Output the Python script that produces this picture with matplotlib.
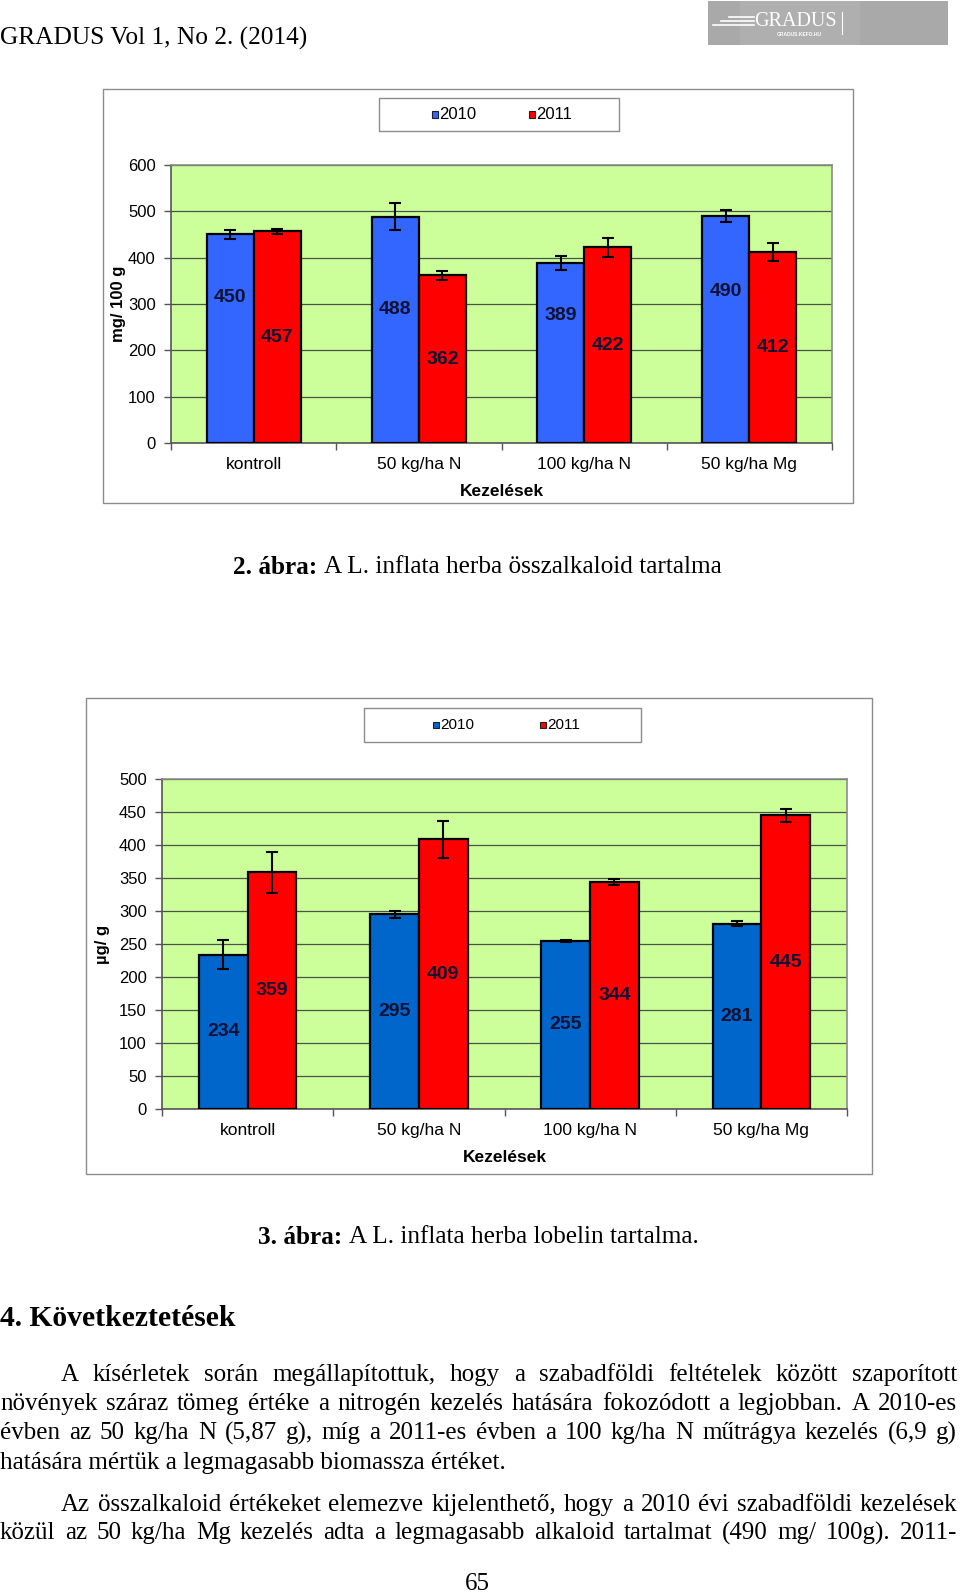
import matplotlib
matplotlib.use("Agg")
import matplotlib.pyplot as plt
from matplotlib.patches import Rectangle
from matplotlib.lines import Line2D
import numpy as np

# ---------------- data ----------------
categories = ['kontroll', '50 kg/ha N', '100 kg/ha N', '50 kg/ha Mg']
series_names = ['2010', '2011']

alk_2010 = [450, 488, 389, 490]
alk_2011 = [457, 362, 422, 412]
alk_err_2010 = [9, 29, 15, 12.5]
alk_err_2011 = [5, 10, 19.5, 20]

lob_2010 = [234, 295, 255, 281]
lob_2011 = [359, 409, 344, 445]
lob_err_2010 = [21.5, 5.5, 1.5, 3.5]
lob_err_2011 = [31, 28, 4.5, 9.5]

alk_yticks = [0, 100, 200, 300, 400, 500, 600]
lob_yticks = [0, 50, 100, 150, 200, 250, 300, 350, 400, 450, 500]

# label heights used in figure 2 for the 2010 series (manually placed in source)
alk_label_pos_2010 = [315, 289, 275, 327]

# ---------------- layout ----------------
W, H = 960, 1596
fig = plt.figure(figsize=(W / 100, H / 100), dpi=100)
fig.patch.set_facecolor('white')

SANS = 'Liberation Sans'
SERIF = 'Liberation Serif'


def fx(x):
    return x / W


def fy(y):
    return 1 - y / H


def add_axes_px(l, t, r, b):
    return fig.add_axes([fx(l), fy(b), (r - l) / W, (b - t) / H])


def frame_box(l, t, r, b, ec='#8c8c8c', lw=1.0):
    fig.patches.append(Rectangle((fx(l), fy(b)), (r - l) / W, (b - t) / H,
                                 transform=fig.transFigure, fill=False,
                                 edgecolor=ec, linewidth=lw, zorder=0))


def draw_chart(ax, v2010, v2011, e2010, e2011, yticks, ylabel, blue,
               label_pos_2010=None, tick_fs=12, cat_fs=12.5, ylabel_x=-0.08):
    x = np.arange(len(categories))
    w = 0.284
    ax.set_facecolor('#CCFF99')
    ax.bar(x - w / 2, v2010, w, color=blue, edgecolor='black', linewidth=1.6, zorder=3)
    ax.bar(x + w / 2, v2011, w, color='#FF0000', edgecolor='black', linewidth=1.6, zorder=3)
    ax.errorbar(x - w / 2, v2010, yerr=e2010, fmt='none', ecolor='black',
                elinewidth=1.5, capsize=4.5, capthick=1.5, zorder=4)
    ax.errorbar(x + w / 2, v2011, yerr=e2011, fmt='none', ecolor='black',
                elinewidth=1.5, capsize=4.5, capthick=1.5, zorder=4)
    for i in range(len(categories)):
        yb = label_pos_2010[i] if label_pos_2010 is not None else v2010[i] / 2
        ax.text(x[i] - w / 2, yb, str(v2010[i]), ha='center', va='center',
                fontsize=14, fontweight='bold', color='#111133', family=SANS, zorder=5)
        ax.text(x[i] + w / 2, v2011[i] / 2, str(v2011[i]), ha='center', va='center',
                fontsize=14, fontweight='bold', color='#111133', family=SANS, zorder=5)
    ax.set_xlim(-0.5, len(categories) - 0.5)
    ax.set_ylim(yticks[0], yticks[-1])
    ax.set_yticks(yticks)
    ax.set_yticklabels([str(t) for t in yticks], family=SANS, fontsize=tick_fs)
    ax.yaxis.grid(True, color='#4a524a', linewidth=0.9, zorder=0)
    ax.set_axisbelow(True)
    ax.set_xticks(np.arange(-0.5, len(categories), 1.0))
    ax.set_xticklabels([])
    ax.set_xticks(x, minor=True)
    ax.set_xticklabels(categories, minor=True, family=SANS, fontsize=cat_fs)
    ax.tick_params(axis='x', which='major', direction='out', length=5, width=1, color='#555555')
    ax.tick_params(axis='x', which='minor', length=0, pad=10)
    ax.tick_params(axis='y', direction='out', length=5, width=1, color='#555555', pad=6)
    for s in ['top', 'right']:
        ax.spines[s].set_color('#8c8c8c')
        ax.spines[s].set_linewidth(1.2)
    for s in ['left', 'bottom']:
        ax.spines[s].set_color('#555555')
        ax.spines[s].set_linewidth(1.2)
    ax.set_xlabel('Kezelések', family=SANS, fontsize=12.5, fontweight='bold', labelpad=9)
    ax.set_ylabel(ylabel, family=SANS, fontsize=12, fontweight='bold')
    ax.yaxis.set_label_coords(ylabel_x, 0.5)


def draw_legend(l, t, r, b, blue, m1x, m2x, fs):
    frame_box(l, t, r, b, ec='#8c8c8c', lw=1.0)
    yc = (t + b) / 2
    for mx, col, name in [(m1x, blue, series_names[0]), (m2x, '#FF0000', series_names[1])]:
        fig.patches.append(Rectangle((fx(mx - 3), fy(yc + 3)), 6 / W, 6 / H,
                                     transform=fig.transFigure, facecolor=col,
                                     edgecolor='#202020', linewidth=0.8))
        fig.text(fx(mx + 4), fy(yc), name, ha='left', va='center', family=SANS, fontsize=fs)


# ---------------- chart 1 ----------------
frame_box(103, 89, 853, 503)
ax1 = add_axes_px(171, 165, 832, 443)
draw_chart(ax1, alk_2010, alk_2011, alk_err_2010, alk_err_2011, alk_yticks,
           'mg/ 100 g', '#3366FF', label_pos_2010=alk_label_pos_2010, ylabel_x=-0.068)
draw_legend(379, 98, 619, 131, '#3366FF', 435, 532, 12)

# ---------------- chart 2 ----------------
frame_box(86, 698, 872, 1174)
ax2 = add_axes_px(162, 779, 847, 1109)
draw_chart(ax2, lob_2010, lob_2011, lob_err_2010, lob_err_2011, lob_yticks,
           'µg/ g', '#0066CC', ylabel_x=-0.076)
draw_legend(364, 708, 641, 742, '#0066CC', 436, 543, 11)

# ---------------- page text ----------------
renderer = fig.canvas.get_renderer()


def text_width(t):
    return t.get_window_extent(renderer).width


fig.text(fx(0), fy(38), 'GRADUS Vol 1, No 2. (2014)', ha='left', va='center',
         family=SERIF, fontsize=18.3)

# logo
fig.patches.append(Rectangle((fx(708), fy(45)), 240 / W, 44 / H, transform=fig.transFigure,
                             facecolor='#a9a9a9', edgecolor='none'))
fig.patches.append(Rectangle((fx(740), fy(45)), 120 / W, 44 / H, transform=fig.transFigure,
                             facecolor='#b4b4b4', edgecolor='none', alpha=0.6))
for yy, x0 in [(17, 729), (21, 721), (25, 713)]:
    fig.lines.append(Line2D([fx(x0), fx(754)], [fy(yy), fy(yy)], transform=fig.transFigure,
                            color='white', linewidth=1.2))
fig.text(fx(754), fy(21), 'GRADUS', ha='left', va='center', family=SERIF,
         fontsize=14.5, color='white')
fig.lines.append(Line2D([fx(842), fx(842)], [fy(12), fy(34)], transform=fig.transFigure,
                        color='white', linewidth=0.8))
fig.text(fx(799), fy(34), 'GRADUS.KEFO.HU', ha='center', va='center', family=SANS,
         fontsize=3.5, color='white', fontweight='bold')


def mixed_caption(x, y, bold_part, rest):
    t1 = fig.text(fx(x), fy(y), bold_part, ha='left', va='center', family=SERIF,
                  fontsize=18.2, fontweight='bold')
    w1 = text_width(t1)
    fig.text(fx(x + w1), fy(y), rest, ha='left', va='center', family=SERIF, fontsize=18.2)


mixed_caption(233, 567, '2. ábra: ', 'A L. inflata herba összalkaloid tartalma')
mixed_caption(258, 1237, '3. ábra: ', 'A L. inflata herba lobelin tartalma.')

fig.text(fx(0), fy(1319), '4. Következtetések', ha='left', va='center', family=SERIF,
         fontsize=21.3, fontweight='bold')


def justified(line, x0, x1, y):
    words = line.split(' ')
    ts = [fig.text(0, fy(y), wd, ha='left', va='center', family=SERIF, fontsize=18)
          for wd in words]
    ws = [text_width(t) for t in ts]
    gap = (x1 - x0 - sum(ws)) / max(len(words) - 1, 1)
    xx = x0
    for t, wd in zip(ts, ws):
        t.set_x(fx(xx))
        xx += wd + gap


def plain(line, x0, y):
    fig.text(fx(x0), fy(y), line, ha='left', va='center', family=SERIF, fontsize=18.1)


justified('A kísérletek során megállapítottuk, hogy a szabadföldi feltételek között szaporított', 61, 957, 1375)
justified('növények száraz tömeg értéke a nitrogén kezelés hatására fokozódott a legjobban. A 2010-es', 0, 957, 1404)
justified('évben az 50 kg/ha N (5,87 g), míg a 2011-es évben a 100 kg/ha N műtrágya kezelés (6,9 g)', 0, 957, 1433)
plain('hatására mértük a legmagasabb biomassza értéket.', 0, 1463)
justified('Az összalkaloid értékeket elemezve kijelenthető, hogy a 2010 évi szabadföldi kezelések', 61, 957, 1505)
justified('közül az 50 kg/ha Mg kezelés adta a legmagasabb alkaloid tartalmat (490 mg/ 100g). 2011-', 0, 957, 1533)

fig.text(fx(477), fy(1584), '65', ha='center', va='center', family=SERIF, fontsize=18)

fig.savefig('out.png', dpi=100)
